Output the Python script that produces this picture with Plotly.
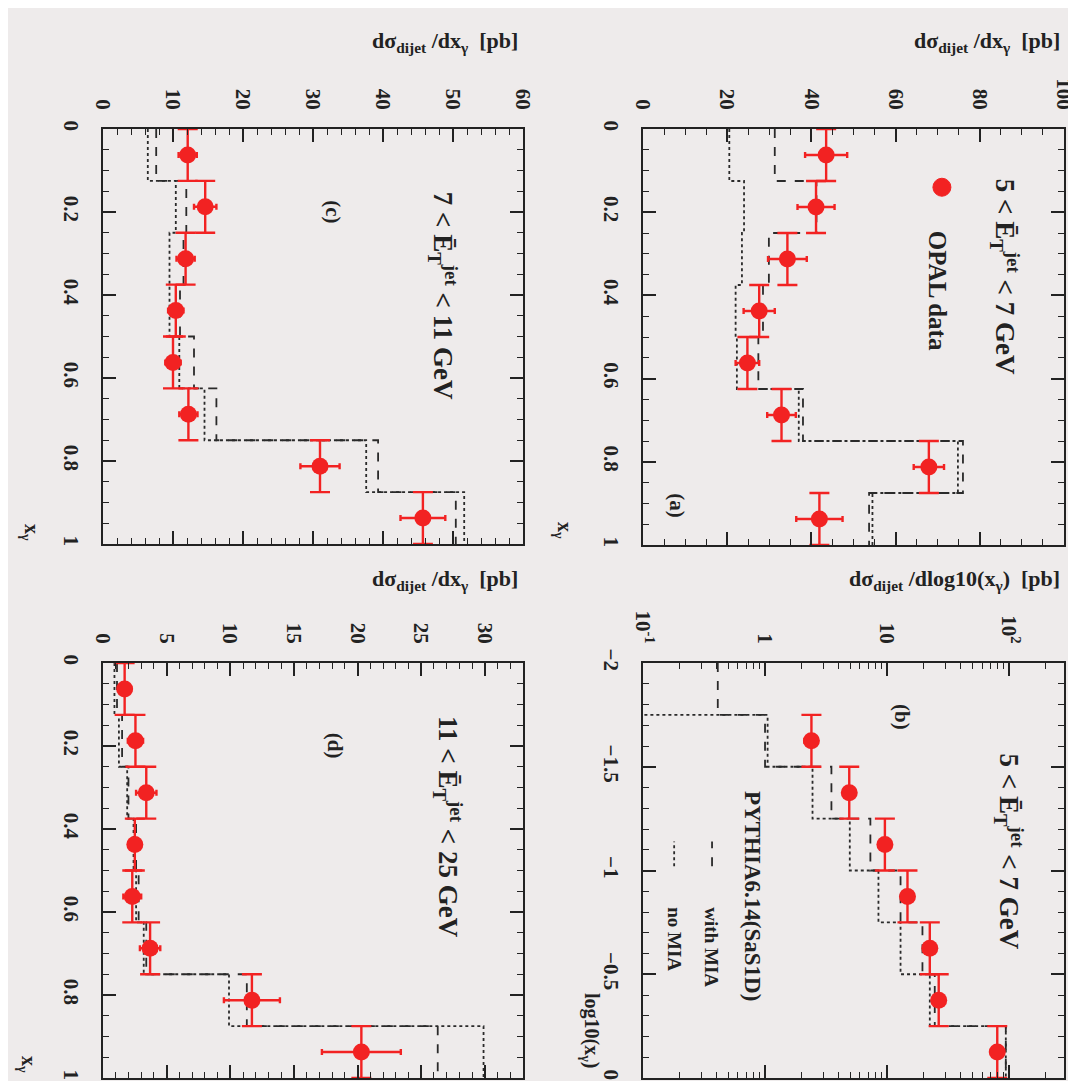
import plotly.graph_objects as go

# ---------------- data ----------------
XG_EDGES = [0.0, 0.125, 0.25, 0.375, 0.5, 0.625, 0.75, 0.875, 1.0]
LOG_EDGES = [-2.0, -1.75, -1.5, -1.25, -1.0, -0.75, -0.5, -0.25, 0.0]
LOG_DATA_EDGES = [-1.75, -1.5, -1.25, -1.0, -0.75, -0.5, -0.25, 0.0]

# (a) 5 < E_T < 7 GeV, dsigma/dx_gamma
a_data = [43.5, 41.1, 34.3, 27.6, 24.8, 32.9, 67.9, 41.9]
a_err = [5.0, 4.4, 4.6, 3.7, 2.8, 3.4, 3.6, 5.5]
a_mia = [31.3, 41.2, 29.9, 28.5, 27.4, 38.0, 76.0, 53.7]
a_nomia = [20.5, 24.0, 23.5, 22.0, 22.3, 37.0, 74.8, 54.5]

# (c) 7 < E_T < 11 GeV
c_data = [12.1, 14.6, 11.8, 10.4, 10.0, 12.2, 31.0, 45.7]
c_err = [1.3, 1.6, 1.3, 1.1, 1.1, 1.3, 2.8, 3.2]
c_mia = [7.6, 11.9, 11.5, 11.0, 13.0, 16.2, 39.3, 50.4]
c_nomia = [6.4, 10.4, 9.5, 9.5, 10.9, 14.5, 37.6, 51.6]

# (d) 11 < E_T < 25 GeV
d_data = [1.7, 2.55, 3.4, 2.5, 2.3, 3.7, 11.7, 20.3]
d_err = [0.5, 0.6, 0.8, 0.5, 0.7, 0.8, 2.2, 3.1]
d_mia = [1.1, 1.5, 2.0, 2.6, 2.8, 3.4, 11.3, 26.3]
d_nomia = [0.9, 1.25, 1.9, 2.4, 2.6, 3.2, 9.9, 29.9]

# (b) 5 < E_T < 7 GeV, dsigma/dlog10(x_gamma)
b_data = [2.4, 4.9, 9.6, 14.7, 22.4, 26.5, 80.0]
b_err = [0.3, 0.5, 0.9, 1.3, 2.0, 2.4, 7.0]
b_mia = [0.41, 1.0, 3.5, 7.3, 12.9, 19.5, 24.6, 94.0]
b_nomia = [0.05, 1.05, 2.45, 4.95, 8.5, 12.9, 22.4, 94.0]

TITLE_LIN = "dσ<sub>dijet</sub> /dx<sub>γ</sub>  [pb]"
TITLE_LOG = "dσ<sub>dijet</sub> /dlog10(x<sub>γ</sub>)  [pb]"

# ---------------- style ----------------
RED = "#f22222"
HIST = "#2a2a2a"
BG = "#eeebeb"
FONT = "Liberation Serif"

W, H = 1076, 1081


def px_x(p):
    return p / W


def px_y(p):
    return 1 - p / H


# panel frames (pixels): left, right, top, bottom
FRAMES = {
    "c": (95, 515, 121, 536),
    "a": (635, 1056, 121, 537),
    "d": (95, 515, 655, 1070),
    "b": (635, 1056, 655, 1070),
}
AX = {"c": "", "a": "2", "d": "3", "b": "4"}

fig = go.Figure()


def centers(edges):
    return [(edges[i] + edges[i + 1]) / 2 for i in range(len(edges) - 1)]


def halfw(edges):
    return [(edges[i + 1] - edges[i]) / 2 for i in range(len(edges) - 1)]


def add_hist(key, edges, vals, dash):
    s = AX[key]
    fig.add_trace(go.Scatter(
        x=list(vals) + [vals[-1]], y=edges, mode="lines", line_shape="vh",
        line=dict(color=HIST, width=1.8, dash=dash),
        xaxis="x" + s, yaxis="y" + s, showlegend=False, hoverinfo="skip"))


def add_data(key, edges, vals, errs):
    s = AX[key]
    fig.add_trace(go.Scatter(
        x=vals, y=centers(edges), mode="markers",
        marker=dict(color=RED, size=17, symbol="circle"),
        error_x=dict(type="data", array=errs, color=RED, thickness=2.4, width=3),
        error_y=dict(type="data", array=halfw(edges), color=RED, thickness=2.4, width=10),
        xaxis="x" + s, yaxis="y" + s, showlegend=False))


for key, edges, mia, nomia, data, err in [
    ("a", XG_EDGES, a_mia, a_nomia, a_data, a_err),
    ("c", XG_EDGES, c_mia, c_nomia, c_data, c_err),
    ("d", XG_EDGES, d_mia, d_nomia, d_data, d_err),
]:
    add_hist(key, edges, nomia, "dot")
    add_hist(key, edges, mia, "dash")
    add_data(key, edges, data, err)

add_hist("b", LOG_EDGES, b_nomia, "dot")
add_hist("b", LOG_EDGES, b_mia, "dash")
add_data("b", LOG_DATA_EDGES, b_data, b_err)

tickfont = dict(family=FONT, size=21, color="#222", weight="bold")

layout = dict(width=W, height=H, margin=dict(l=0, r=0, t=0, b=0, autoexpand=False),
              paper_bgcolor=BG, plot_bgcolor=BG, showlegend=False)

xranges = {"c": ([0, 60], 10, 2), "a": ([0, 100], 20, 5), "d": ([0, 33], 5, 1)}

for key, (l, r, t, b) in FRAMES.items():
    s = AX[key]
    xa = dict(domain=[px_x(l), px_x(r)], anchor="y" + s, side="top", automargin=False,
              showline=True, linewidth=2, linecolor="#222", mirror="allticks",
              ticks="inside", ticklen=13, tickwidth=1.6, tickcolor="#222",
              tickangle=90, tickfont=tickfont, showgrid=False, zeroline=False,
              ticklabelstandoff=10)
    ya = dict(domain=[px_y(b), px_y(t)], anchor="x" + s, automargin=False,
              showline=True, linewidth=2, linecolor="#222", mirror="allticks",
              ticks="inside", ticklen=13, tickwidth=1.6, tickcolor="#222",
              tickangle=90, tickfont=tickfont, showgrid=False, zeroline=False,
              ticklabelstandoff=12)
    if key in xranges:
        rng, dt, mdt = xranges[key]
        xa.update(range=rng, dtick=dt, tick0=0,
                  minor=dict(ticks="inside", ticklen=6, dtick=mdt, tickcolor="#222", tickwidth=1.2))
        ya.update(range=[1, 0], dtick=0.2, tick0=0,
                  minor=dict(ticks="inside", ticklen=6, dtick=0.05, tickcolor="#222", tickwidth=1.2))
    else:
        minor_vals = [m * d for d in (0.1, 1, 10, 100) for m in range(2, 10) if m * d < 280]
        xa.update(type="log", range=[-1, 2.45], tickmode="array",
                  tickvals=[0.1, 1, 10, 100],
                  ticktext=["10<sup>-1</sup>", "1", "10", "10<sup>2</sup>"],
                  minor=dict(ticks="inside", ticklen=6, tickmode="array", tickvals=minor_vals,
                             tickcolor="#222", tickwidth=1.2))
        ya.update(range=[0, -2], dtick=0.5, tick0=0,
                  minor=dict(ticks="inside", ticklen=6, dtick=0.1, tickcolor="#222", tickwidth=1.2))
    layout["xaxis" + s] = xa
    layout["yaxis" + s] = ya

fig.update_layout(**layout)

ann = []


def bold(t):
    return "<b>" + t + "</b>"


def dom_text(key, x, y, text, size, angle=90, xanchor="center", yanchor="middle", color="#222"):
    s = AX[key]
    ann.append(dict(xref="x" + s + " domain", yref="y" + s + " domain", x=x, y=y,
                    text=bold(text), showarrow=False, textangle=angle,
                    xanchor=xanchor, yanchor=yanchor,
                    font=dict(family=FONT, size=size, color=color)))


def paper_text(x, y, text, size, angle=0, xanchor="center", yanchor="middle"):
    ann.append(dict(xref="paper", yref="paper", x=px_x(x), y=px_y(y), text=bold(text),
                    showarrow=False, textangle=angle, xanchor=xanchor, yanchor=yanchor,
                    font=dict(family=FONT, size=size, color="#222")))


# axis titles
paper_text(512, 34, TITLE_LIN, 22, xanchor="right")
paper_text(1054, 34, TITLE_LIN, 22, xanchor="right")
paper_text(512, 572, TITLE_LIN, 22, xanchor="right")
paper_text(1054, 572, TITLE_LOG, 22, xanchor="right")
paper_text(22, 524, "x<sub>γ</sub>", 20, angle=90)
paper_text(556, 522, "x<sub>γ</sub>", 20, angle=90)
paper_text(20, 1056, "x<sub>γ</sub>", 20, angle=90)
paper_text(583, 1022, "log10(x<sub>γ</sub>)", 20, angle=90)

ET = "Ē<sub>T</sub><sup>jet</sup>"
dom_text("a", 0.86, 0.885, "5 < " + ET + " < 7 GeV", 27, yanchor="top")
dom_text("a", 0.08, 0.094, "(a)", 21)
dom_text("a", 0.70, 0.761, "OPAL data", 25, yanchor="top")
dom_text("c", 0.81, 0.853, "7 < " + ET + " < 11 GeV", 27, yanchor="top")
dom_text("c", 0.547, 0.80, "(c)", 21)
dom_text("d", 0.82, 0.876, "11 < " + ET + " < 25 GeV", 27, yanchor="top")
dom_text("d", 0.553, 0.80, "(d)", 21)
dom_text("b", 0.87, 0.786, "5 < " + ET + " < 7 GeV", 27, yanchor="top")
dom_text("b", 0.615, 0.87, "(b)", 21)
dom_text("b", 0.26, 0.695, "PYTHIA6.14(SaS1D)", 23, yanchor="top")
dom_text("b", 0.164, 0.416, "with MIA", 19, yanchor="top")
dom_text("b", 0.074, 0.416, "no MIA", 19, yanchor="top")

fig.update_layout(annotations=ann)

shapes = [
    # OPAL data legend marker
    dict(type="circle", xref="x2 domain", yref="y2 domain", xsizemode="pixel", ysizemode="pixel",
         xanchor=0.71, yanchor=0.86, x0=-9, x1=9, y0=-9, y1=9,
         fillcolor=RED, line=dict(color=RED, width=1)),
    # PYTHIA legend line samples
    dict(type="line", xref="x4 domain", yref="y4 domain", x0=0.164, x1=0.164, y0=0.51, y1=0.57,
         line=dict(color=HIST, width=1.8, dash="dash")),
    dict(type="line", xref="x4 domain", yref="y4 domain", x0=0.074, x1=0.074, y0=0.51, y1=0.57,
         line=dict(color=HIST, width=1.8, dash="dot")),
]
fig.update_layout(shapes=shapes)

fig.write_html("out.html")
